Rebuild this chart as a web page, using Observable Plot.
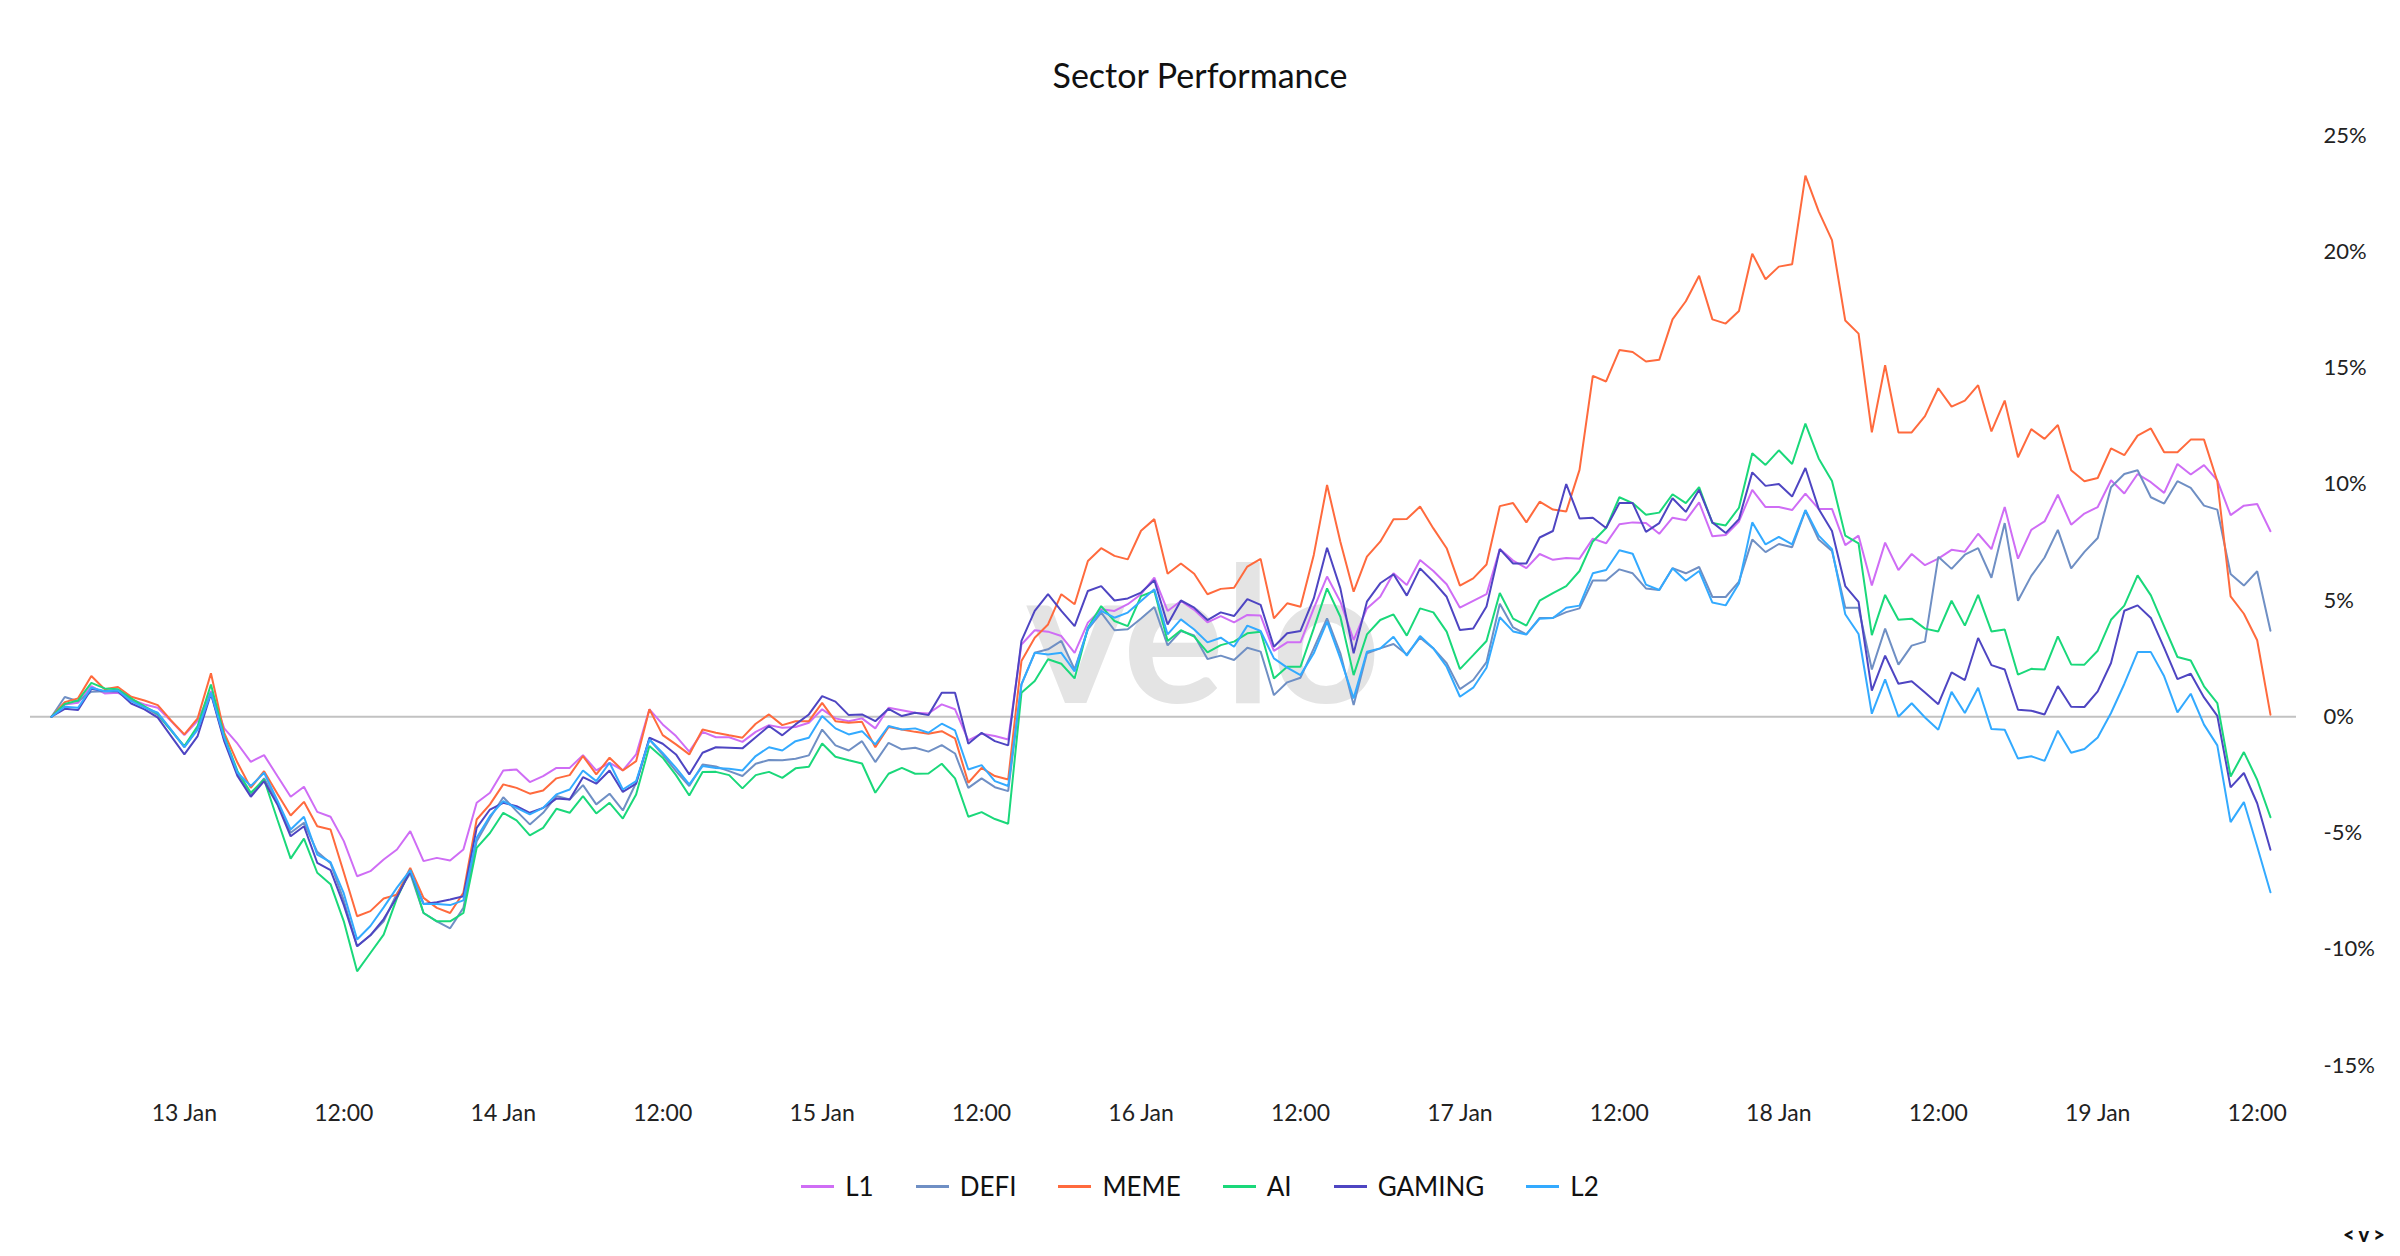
<!DOCTYPE html>
<html><head><meta charset="utf-8">
<script src="https://cdn.jsdelivr.net/npm/d3@7"></script>
<script src="https://cdn.jsdelivr.net/npm/@observablehq/plot@0.6"></script>
<style>
html,body{margin:0;padding:0;background:#fff;}
body{width:2400px;height:1256px;position:relative;overflow:hidden;font-family:Lato, sans-serif;}
#title{position:absolute;left:0;top:55px;width:2400px;text-align:center;font-size:34px;line-height:40px;color:#111;}
#wm{position:absolute;left:0;top:0;}
#chart{position:absolute;left:0;top:110px;}
#legend{position:absolute;left:0;width:2400px;top:1168px;display:flex;justify-content:center;align-items:center;font-size:26px;line-height:36px;color:#111;}
.item{display:flex;align-items:center;margin:0 21px;}
.sw{width:33px;height:3px;margin-right:11px;}
#logo{position:absolute;left:2343px;top:1222px;font-size:20px;line-height:24px;font-weight:900;letter-spacing:4px;color:#111;}
</style>
</head><body>
<div id="title">Sector Performance</div>
<svg id="wm" width="2400" height="1256"><text x="1203" y="703" text-anchor="middle" font-family="Lato, sans-serif" font-weight="700" font-size="190" fill="#e4e4e4">velo</text></svg>
<div id="chart"></div>
<div id="legend"></div>
<div id="logo">&lt;v&gt;</div>
<script>
const seriesNames = ["L1", "DEFI", "MEME", "AI", "GAMING", "L2"];
const seriesColors = ["#cf6df5", "#6f8fc4", "#ff6a3d", "#1ad87a", "#4e45c2", "#33aaff"];

const L1 = [0, 0.53, 0.6, 1.32, 1.0, 1.03, 0.75, 0.53, 0.39, -0.19,
 -0.79, -0.17, 1.1, -0.5, -1.16, -1.94, -1.65, -2.55, -3.44, -3.01,
 -4.09, -4.3, -5.35, -6.86, -6.64, -6.14, -5.71, -4.92, -6.21, -6.07,
 -6.18, -5.71, -3.7, -3.27, -2.31, -2.27, -2.81, -2.55, -2.2, -2.2,
 -1.65, -2.31, -1.98, -2.31, -1.62, 0.32, -0.33, -0.83, -1.5, -0.65,
 -0.88, -0.88, -1.08, -0.65, -0.36, -0.47, -0.44, -0.26, 0.32, -0.07,
 -0.19, -0.07, -0.5, 0.39, 0.28, 0.17, 0.14, 0.53, 0.32, -1.02,
 -0.73, -0.83, -0.98, 3.11, 3.72, 3.66, 3.47, 2.75, 4.05, 4.62,
 4.55, 4.84, 5.27, 5.98, 4.55, 4.98, 4.6, 4.06, 4.33, 4.06,
 4.38, 4.35, 2.83, 3.2, 3.2, 4.66, 6.03, 4.95, 3.3, 4.66,
 5.16, 6.17, 5.67, 6.74, 6.27, 5.7, 4.69, 4.98, 5.27, 7.21,
 6.72, 6.39, 7.0, 6.75, 6.83, 6.8, 7.66, 7.46, 8.28, 8.36,
 8.33, 7.87, 8.56, 8.45, 9.22, 7.76, 7.82, 8.4, 9.76, 9.02,
 9.02, 8.89, 9.6, 8.94, 8.94, 7.38, 7.79, 5.65, 7.49, 6.31,
 7.0, 6.52, 6.8, 7.18, 7.1, 7.87, 7.21, 9.02, 6.8, 8.04,
 8.4, 9.55, 8.26, 8.74, 9.02, 10.17, 9.6, 10.44, 10.09, 9.63,
 10.87, 10.42, 10.82, 10.17, 8.67, 9.08, 9.15, 7.98];

const DEFI = [0, 0.85, 0.67, 1.08, 1.1, 1.1, 0.7, 0.42, 0.07, -0.59,
 -1.31, -0.5, 1.03, -0.98, -2.48, -3.37, -2.65, -3.67, -4.99, -4.56,
 -5.81, -6.3, -7.9, -9.87, -9.4, -8.8, -7.6, -6.74, -8.44, -8.8,
 -9.1, -8.22, -5.35, -4.35, -3.46, -4.06, -4.63, -4.13, -3.41, -3.56,
 -2.94, -3.77, -3.31, -4.03, -2.84, -0.98, -1.63, -2.34, -2.98, -2.05,
 -2.14, -2.34, -2.55, -2.02, -1.86, -1.87, -1.81, -1.66, -0.55, -1.23,
 -1.45, -1.05, -1.95, -1.12, -1.4, -1.33, -1.5, -1.22, -1.58, -3.06,
 -2.65, -3.03, -3.2, 1.39, 2.75, 2.9, 3.26, 2.04, 3.76, 4.48,
 3.72, 3.76, 4.23, 4.72, 3.07, 3.69, 3.5, 2.48, 2.63, 2.44,
 2.97, 2.8, 0.93, 1.48, 1.68, 2.94, 4.23, 2.73, 0.5, 2.73,
 2.94, 3.13, 2.68, 3.4, 2.94, 2.3, 1.19, 1.58, 2.35, 4.86,
 3.84, 3.54, 4.25, 4.25, 4.5, 4.66, 5.86, 5.86, 6.34, 6.17,
 5.52, 5.45, 6.39, 6.17, 6.44, 5.15, 5.15, 5.81, 7.62, 7.08,
 7.43, 7.29, 8.86, 7.62, 7.13, 4.69, 4.69, 2.03, 3.79, 2.24,
 3.06, 3.23, 6.88, 6.36, 6.97, 7.25, 5.98, 8.33, 4.99, 6.06,
 6.85, 8.04, 6.38, 7.09, 7.69, 9.87, 10.44, 10.6, 9.44, 9.17,
 10.13, 9.84, 9.08, 8.91, 6.14, 5.64, 6.26, 3.7];

const MEME = [0, 0.63, 0.79, 1.75, 1.18, 1.28, 0.86, 0.7, 0.5, -0.16,
 -0.76, -0.07, 1.87, -0.69, -1.98, -3.06, -2.34, -3.31, -4.25, -3.66,
 -4.71, -4.85, -6.7, -8.58, -8.36, -7.82, -7.65, -6.5, -7.79, -8.22,
 -8.44, -7.57, -4.42, -3.77, -2.91, -3.06, -3.31, -3.17, -2.65, -2.51,
 -1.69, -2.48, -1.76, -2.31, -1.91, 0.32, -0.79, -1.19, -1.62, -0.55,
 -0.69, -0.8, -0.9, -0.3, 0.1, -0.36, -0.19, -0.19, 0.6, -0.19,
 -0.26, -0.22, -1.31, -0.44, -0.55, -0.65, -0.73, -0.62, -0.93, -2.84,
 -2.2, -2.55, -2.7, 2.4, 3.4, 3.97, 5.27, 4.84, 6.7, 7.25,
 6.92, 6.77, 8.0, 8.5, 6.15, 6.59, 6.15, 5.27, 5.5, 5.55,
 6.46, 6.79, 4.23, 4.88, 4.73, 6.96, 9.97, 7.53, 5.38, 6.89,
 7.53, 8.49, 8.51, 9.04, 8.1, 7.25, 5.64, 5.95, 6.55, 9.06,
 9.19, 8.36, 9.25, 8.91, 8.83, 10.62, 14.66, 14.42, 15.77, 15.69,
 15.28, 15.35, 17.09, 17.87, 18.97, 17.09, 16.91, 17.45, 19.92, 18.82,
 19.36, 19.46, 23.27, 21.74, 20.5, 17.04, 16.48, 12.23, 15.12, 12.23,
 12.23, 12.93, 14.13, 13.34, 13.6, 14.26, 12.27, 13.6, 11.16, 12.37,
 11.95, 12.55, 10.6, 10.13, 10.27, 11.54, 11.25, 12.09, 12.4, 11.38,
 11.38, 11.92, 11.92, 10.13, 5.18, 4.43, 3.29, 0.09];

const AI = [0, 0.55, 0.7, 1.46, 1.22, 1.18, 0.79, 0.45, 0.13, -0.59,
 -1.26, -0.4, 1.39, -0.83, -2.34, -3.27, -2.7, -4.42, -6.1, -5.24,
 -6.71, -7.2, -8.8, -10.95, -10.16, -9.37, -7.8, -6.6, -8.44, -8.8,
 -8.8, -8.44, -5.64, -5.0, -4.13, -4.46, -5.1, -4.78, -3.96, -4.13,
 -3.41, -4.16, -3.7, -4.38, -3.34, -1.26, -1.76, -2.51, -3.39, -2.38,
 -2.37, -2.51, -3.08, -2.51, -2.37, -2.63, -2.22, -2.15, -1.15, -1.72,
 -1.87, -2.01, -3.27, -2.45, -2.2, -2.45, -2.44, -2.02, -2.65, -4.3,
 -4.1, -4.4, -4.6, 1.03, 1.54, 2.47, 2.28, 1.65, 3.83, 4.76,
 4.12, 3.9, 5.19, 5.41, 3.26, 3.72, 3.45, 2.77, 3.08, 3.23,
 3.59, 3.66, 1.65, 2.15, 2.15, 3.8, 5.52, 4.3, 1.79, 3.54,
 4.16, 4.4, 3.49, 4.66, 4.49, 3.66, 2.05, 2.65, 3.26, 5.32,
 4.22, 3.92, 4.99, 5.32, 5.62, 6.27, 7.54, 8.12, 9.44, 9.19,
 8.69, 8.78, 9.57, 9.19, 9.88, 8.33, 8.23, 8.99, 11.33, 10.83,
 11.46, 10.87, 12.61, 11.11, 10.14, 7.79, 7.46, 3.51, 5.24, 4.17,
 4.22, 3.79, 3.67, 4.99, 3.92, 5.24, 3.67, 3.75, 1.81, 2.06,
 2.03, 3.46, 2.25, 2.24, 2.84, 4.17, 4.78, 6.08, 5.22, 3.89,
 2.57, 2.42, 1.31, 0.59, -2.57, -1.52, -2.71, -4.32];

const GAMING = [0, 0.34, 0.29, 1.2, 1.1, 1.1, 0.57, 0.32, -0.04, -0.83,
 -1.62, -0.83, 0.99, -1.05, -2.55, -3.44, -2.77, -3.77, -5.14, -4.71,
 -6.28, -6.6, -8.1, -9.87, -9.4, -8.7, -7.75, -6.65, -8.05, -7.98,
 -7.86, -7.72, -4.78, -3.99, -3.7, -3.85, -4.13, -3.92, -3.52, -3.56,
 -2.6, -2.88, -2.31, -3.23, -2.88, -0.9, -1.16, -1.62, -2.48, -1.55,
 -1.31, -1.33, -1.36, -0.88, -0.4, -0.8, -0.33, 0.1, 0.89, 0.65,
 0.07, 0.1, -0.19, 0.34, 0.03, 0.17, 0.07, 1.03, 1.03, -1.16,
 -0.69, -1.05, -1.23, 3.26, 4.55, 5.27, 4.55, 3.9, 5.41, 5.62,
 5.0, 5.09, 5.34, 5.87, 3.97, 5.0, 4.69, 4.16, 4.49, 4.33,
 5.06, 4.81, 3.01, 3.59, 3.69, 5.09, 7.27, 5.52, 2.73, 4.95,
 5.74, 6.13, 5.21, 6.38, 5.81, 5.16, 3.73, 3.8, 4.74, 7.21,
 6.59, 6.59, 7.71, 7.99, 10.01, 8.53, 8.56, 8.12, 9.19, 9.19,
 7.95, 8.33, 9.4, 8.81, 9.76, 8.36, 7.9, 8.5, 10.51, 9.93,
 10.01, 9.47, 10.7, 8.94, 7.99, 5.62, 4.94, 1.12, 2.63, 1.42,
 1.53, 1.04, 0.54, 1.91, 1.58, 3.39, 2.22, 2.03, 0.3, 0.26,
 0.1, 1.32, 0.43, 0.42, 1.09, 2.31, 4.56, 4.79, 4.25, 2.96,
 1.62, 1.85, 0.83, 0.04, -3.04, -2.42, -3.72, -5.72];

const L2 = [0, 0.43, 0.39, 1.25, 1.1, 1.13, 0.67, 0.39, 0.17, -0.55,
 -1.31, -0.55, 1.03, -0.9, -2.41, -2.98, -2.41, -3.6, -4.85, -4.3,
 -5.93, -6.25, -7.6, -9.58, -9.0, -8.2, -7.35, -6.6, -8.05, -8.05,
 -8.1, -7.9, -5.2, -4.27, -3.63, -3.92, -4.2, -3.92, -3.34, -3.13,
 -2.31, -2.77, -1.98, -3.13, -2.77, -0.98, -1.56, -2.2, -2.91, -2.12,
 -2.2, -2.24, -2.31, -1.69, -1.31, -1.45, -1.05, -0.9, 0.03, -0.5,
 -0.76, -0.62, -1.19, -0.4, -0.55, -0.5, -0.69, -0.3, -0.59, -2.27,
 -2.08, -2.77, -2.98, 1.39, 2.75, 2.68, 2.75, 1.95, 3.8, 4.55,
 4.26, 4.48, 4.98, 5.48, 3.54, 4.19, 3.75, 3.2, 3.4, 3.01,
 3.92, 3.69, 2.51, 2.11, 1.79, 2.73, 4.09, 2.51, 0.79, 2.8,
 2.94, 3.44, 2.63, 3.47, 2.94, 2.15, 0.86, 1.25, 2.11, 4.28,
 3.67, 3.54, 4.22, 4.25, 4.69, 4.78, 6.17, 6.31, 7.16, 7.01,
 5.68, 5.45, 6.39, 5.85, 6.27, 4.91, 4.79, 5.73, 8.36, 7.41,
 7.74, 7.41, 8.89, 7.79, 7.21, 4.41, 3.56, 0.13, 1.61, 0.0,
 0.58, -0.03, -0.56, 1.07, 0.16, 1.25, -0.53, -0.56, -1.8, -1.7,
 -1.9, -0.6, -1.55, -1.39, -0.89, 0.16, 1.41, 2.78, 2.78, 1.74,
 0.19, 0.99, -0.34, -1.23, -4.53, -3.67, -5.58, -7.55];

// hourly observations starting 12 Jan 14:00 (UTC)
const startTime = Date.UTC(2025, 0, 12, 14);
const HOUR = 3600e3;

const xTickDates = ["2025-01-13T00:00Z", "2025-01-13T12:00Z", "2025-01-14T00:00Z", "2025-01-14T12:00Z",
  "2025-01-15T00:00Z", "2025-01-15T12:00Z", "2025-01-16T00:00Z", "2025-01-16T12:00Z",
  "2025-01-17T00:00Z", "2025-01-17T12:00Z", "2025-01-18T00:00Z", "2025-01-18T12:00Z",
  "2025-01-19T00:00Z", "2025-01-19T12:00Z"];
const xTickLabels = ["13 Jan", "12:00", "14 Jan", "12:00", "15 Jan", "12:00", "16 Jan", "12:00",
  "17 Jan", "12:00", "18 Jan", "12:00", "19 Jan", "12:00"];
const yTicks = [-15, -10, -5, 0, 5, 10, 15, 20, 25];

const seriesValues = [L1, DEFI, MEME, AI, GAMING, L2];
const data = seriesNames.flatMap((name, k) =>
  seriesValues[k].map((v, i) => ({series: name, t: new Date(startTime + i * HOUR), v})));

const nPts = L1.length;
const xDomain = [new Date(startTime - 1.58 * HOUR), new Date(startTime + (nPts - 1) * HOUR + 1.96 * HOUR)];
const tickDates = xTickDates.map(s => new Date(s));
const labelMap = new Map(tickDates.map((d, i) => [+d, xTickLabels[i]]));

const chart = Plot.plot({
  width: 2400,
  height: 1015,
  marginLeft: 30,
  marginRight: 104,
  marginTop: 25,
  marginBottom: 60,
  style: {fontFamily: "Lato, sans-serif", background: "transparent", color: "#222"},
  x: {type: "utc", domain: xDomain},
  y: {domain: [-15, 25]},
  color: {domain: seriesNames, range: seriesColors},
  marks: [
    Plot.ruleY([0], {stroke: "#c2c2c2", strokeWidth: 2}),
    Plot.lineY(data, {x: "t", y: "v", z: "series", stroke: "series", strokeWidth: 2, strokeLinejoin: "miter"}),
    Plot.axisY({anchor: "right", ticks: yTicks, tickSize: 0, tickPadding: 27, tickFormat: d => `${d}%`, fontSize: 22, label: null, fill: "#222"}),
    Plot.axisX({ticks: tickDates, tickSize: 0, tickPadding: 39, tickFormat: d => labelMap.get(+d), fontSize: 23, label: null, fill: "#222"})
  ]
});
document.getElementById("chart").appendChild(chart);

const legend = document.getElementById("legend");
seriesNames.forEach((name, k) => {
  const item = document.createElement("div");
  item.className = "item";
  const sw = document.createElement("span");
  sw.className = "sw";
  sw.style.background = seriesColors[k];
  const lab = document.createElement("span");
  lab.textContent = name;
  item.appendChild(sw);
  item.appendChild(lab);
  legend.appendChild(item);
});
</script>
</body></html>
